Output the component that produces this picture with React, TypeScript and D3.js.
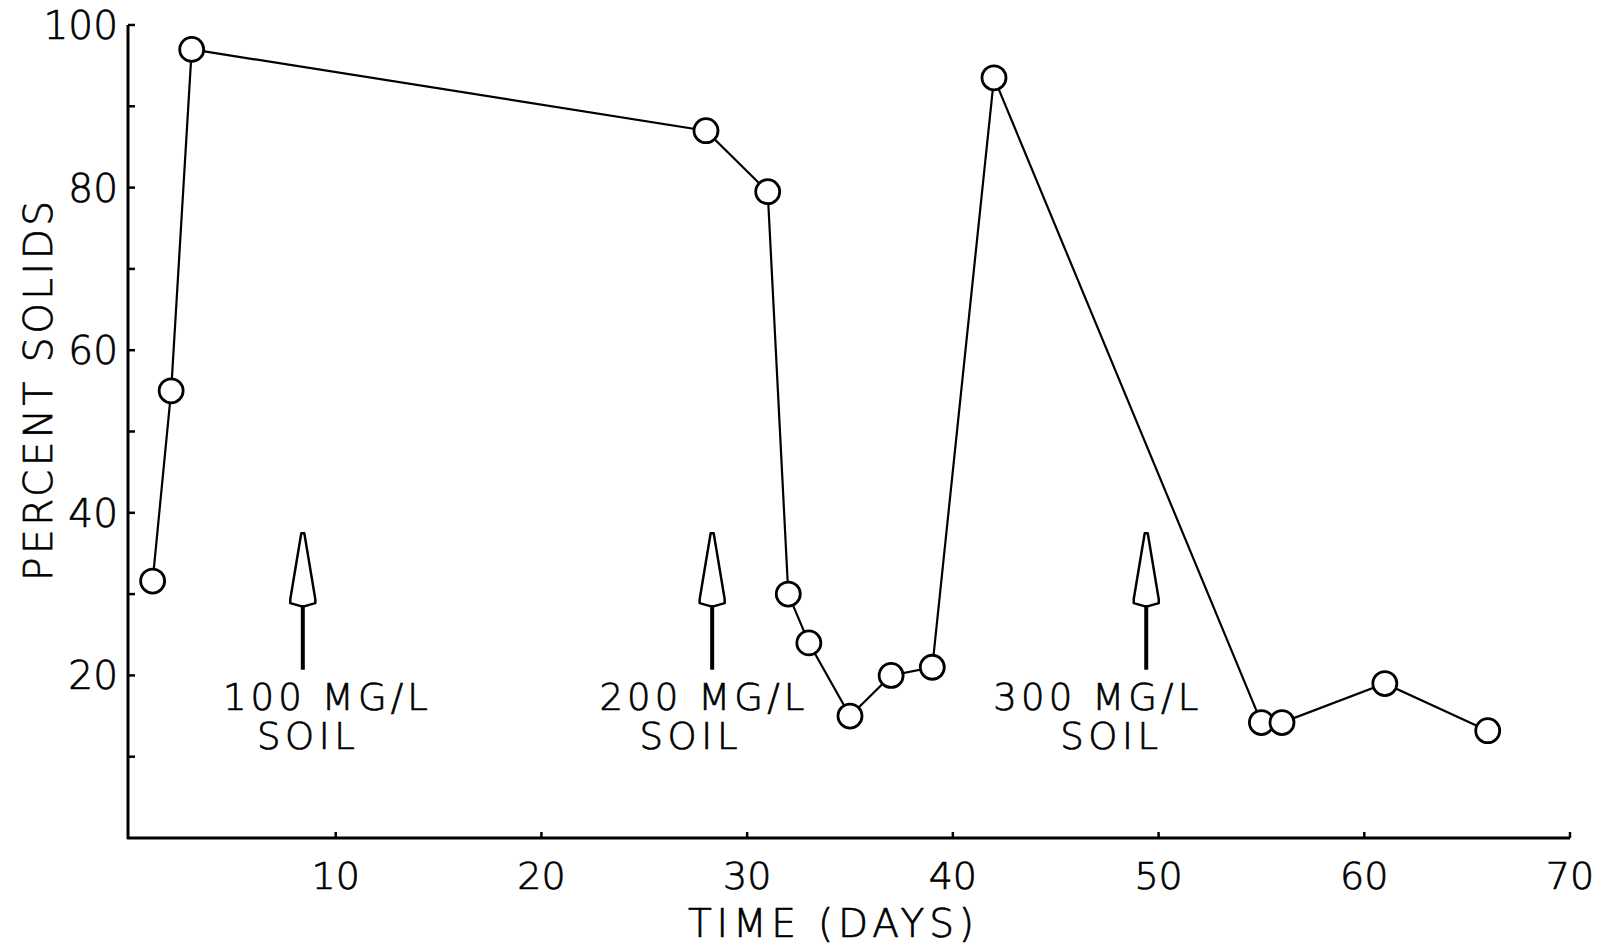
import { useMemo } from 'react'
import * as d3 from 'd3'

// percent solids vs. time
const days = [1.1, 2, 3, 28, 31, 32, 33, 35, 37, 39, 42, 55, 56, 61, 66]
const solids = [31.6, 55, 97, 87, 79.5, 30, 24, 15, 20, 21, 93.5, 14.2, 14.2, 19, 13.2]

const yTicks = [10, 20, 30, 40, 50, 60, 70, 80, 90, 100]
const yLabels = [20, 40, 60, 80, 100]
const xTicks = [10, 20, 30, 40, 50, 60, 70]

// soil dose arrows
const doseDays = [8.4, 28.3, 49.4]
const doseText = ['100 MG/L', '200 MG/L', '300 MG/L']
const doseTextDay = [9.5, 27.8, 46.95]
const soilTextDay = [8.55, 27.15, 47.6]
const arrowTop = 37.5
const arrowBottom = 20.7

const W = 1616
const H = 952
const FONT = '"DejaVu Sans", sans-serif'

const App = () => {
  const x = useMemo(() => d3.scaleLinear().domain([0, 70]).range([130, 1570]), [])
  const y = useMemo(() => d3.scaleLinear().domain([0, 100]).range([838, 25]), [])

  const points = days.map((d, i) => ({ day: d, value: solids[i] }))

  const line = d3.line<{ day: number; value: number }>()
    .x(d => x(d.day))
    .y(d => y(d.value))

  const arrowPath = (cx: number, tip: number) => {
    const base = tip + 70
    return `M${cx - 1.5},${tip} L${cx + 1.5},${tip} L${cx + 12.5},${base - 4} L${cx + 12.5},${base}
      L${cx + 2},${base + 3} L${cx - 2},${base + 3} L${cx - 12.5},${base} L${cx - 12.5},${base - 4} Z`
  }

  return (
    <div style={{ position: 'fixed', left: 0, top: 0 }}>
      <svg width={W} height={H} style={{ display: 'block', background: '#fff' }} fontFamily={FONT}>
        {/* axes */}
        <line x1={x(0) - 2} x2={x(0) - 2} y1={y(100)} y2={y(0) + 1} stroke="#000" strokeWidth={3} />
        <line x1={x(0) - 3} x2={x(70)} y1={y(0)} y2={y(0)} stroke="#000" strokeWidth={3} />
        {yTicks.map(t => (
          <line key={'yt' + t} x1={x(0) - 2} x2={x(0) + 5} y1={y(t)} y2={y(t)} stroke="#000" strokeWidth={2.5} />
        ))}
        {xTicks.map(t => (
          <line key={'xt' + t} x1={x(t)} x2={x(t)} y1={y(0)} y2={y(0) - 6} stroke="#000" strokeWidth={2.5} />
        ))}

        <g fontWeight={200} fill="#000" stroke="#000" strokeWidth={0.7}>
          {yLabels.map(t => (
            <text key={'yl' + t} x={x(0) - 12} y={y(t)} dy="0.36em" textAnchor="end" fontSize={39}>{t}</text>
          ))}
          {xTicks.map(t => (
            <text key={'xl' + t} x={x(t)} y={y(0) + 51} textAnchor="middle" fontSize={38}>{t}</text>
          ))}
          <text x={831} y={937} textAnchor="middle" fontSize={39} textLength={286} lengthAdjust="spacing">TIME (DAYS)</text>
          <text transform="translate(52,391) rotate(-90)" textAnchor="middle" fontSize={39} textLength={380} lengthAdjust="spacing">PERCENT SOLIDS</text>
        </g>

        {/* dose arrows */}
        {doseDays.map((d, i) => (
          <g key={'arrow' + i}>
            <line x1={x(d)} x2={x(d)} y1={y(arrowTop) + 72} y2={y(arrowBottom)} stroke="#000" strokeWidth={4} />
            <path d={arrowPath(x(d), y(arrowTop))} fill="#fff" stroke="#000" strokeWidth={2.5} strokeLinejoin="round" />
            <g fontWeight={200} fill="#000" stroke="#000" strokeWidth={0.7}>
              <text x={x(doseTextDay[i])} y={y(arrowBottom) + 40} textAnchor="middle" fontSize={37} textLength={205} lengthAdjust="spacing">{doseText[i]}</text>
              <text x={x(soilTextDay[i])} y={y(arrowBottom) + 79} textAnchor="middle" fontSize={37} textLength={98} lengthAdjust="spacing">SOIL</text>
            </g>
          </g>
        ))}

        {/* series */}
        <path d={line(points) ?? ''} fill="none" stroke="#000" strokeWidth={2.2} />
        {points.map((p, i) => (
          <circle key={'pt' + i} cx={x(p.day)} cy={y(p.value)} r={12} fill="#fff" stroke="#000" strokeWidth={2.8} />
        ))}
      </svg>
    </div>
  )
}

export default App
